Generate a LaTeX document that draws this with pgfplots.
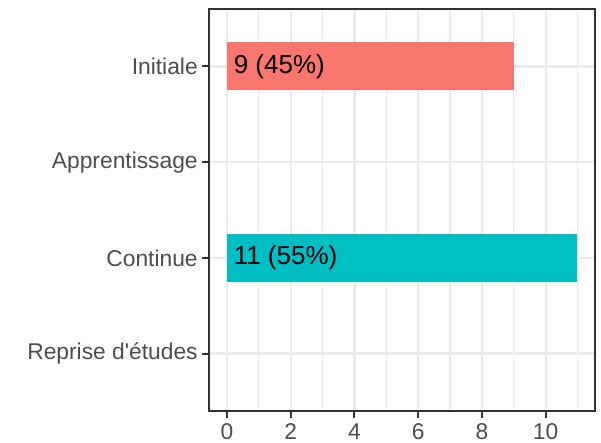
\documentclass[border=0pt]{standalone}
\usepackage{fontspec}
\setmainfont{Liberation Sans}
\usepackage{pgfplots}
\pgfplotsset{compat=1.18}
\definecolor{redbar}{HTML}{F8766D}
\definecolor{tealbar}{HTML}{00BFC4}
\definecolor{gridc}{HTML}{EBEBEB}
\definecolor{framec}{HTML}{333333}
\definecolor{ticklab}{HTML}{4D4D4D}
\begin{document}
\begin{tikzpicture}
\path[use as bounding box] (0,0) rectangle (300.5pt,221.5pt);
\begin{axis}[
 at={(104.75pt,16pt)}, anchor=south west,
 scale only axis, width=192.75pt, height=201pt,
 xmin=-0.55, xmax=11.55, ymin=0.4, ymax=4.6,
 xtick={0,2,...,10}, ytick={1,2,3,4},
 yticklabels={Reprise d\textquotesingle études, Continue, Apprentissage, Initiale},
 minor xtick={1,3,...,11},
 grid=both,
 major grid style={gridc, line width=1.1pt},
 minor grid style={gridc, line width=0.55pt},
 axis line style={framec, line width=1pt},
 tick style={framec, line width=1pt},
 major tick length=3.5pt, minor tick length=0pt, tick align=outside,
 tick pos=left,
 /pgf/number format/assume math mode=true,
 ticklabel style={font=\fontsize{11.4}{13}\selectfont, text=ticklab, inner sep=1pt},
 xticklabel style={yshift=-1.5pt},
 yticklabel style={xshift=-1.2pt},
 clip=false,
]
\addplot[xbar, bar width=0.5, bar shift=0pt, fill=redbar, draw=none] coordinates {(9,4)};
\addplot[xbar, bar width=0.5, bar shift=0pt, fill=tealbar, draw=none] coordinates {(11,2)};
\addplot[draw=none, nodes near coords, point meta=explicit symbolic,
  nodes near coords style={anchor=west, font=\fontsize{13}{15}\selectfont, text=black, inner sep=0pt}]
  coordinates {(0.2,4) [9 (45\%)] (0.2,2) [11 (55\%)]};
\end{axis}
\end{tikzpicture}
\end{document}
